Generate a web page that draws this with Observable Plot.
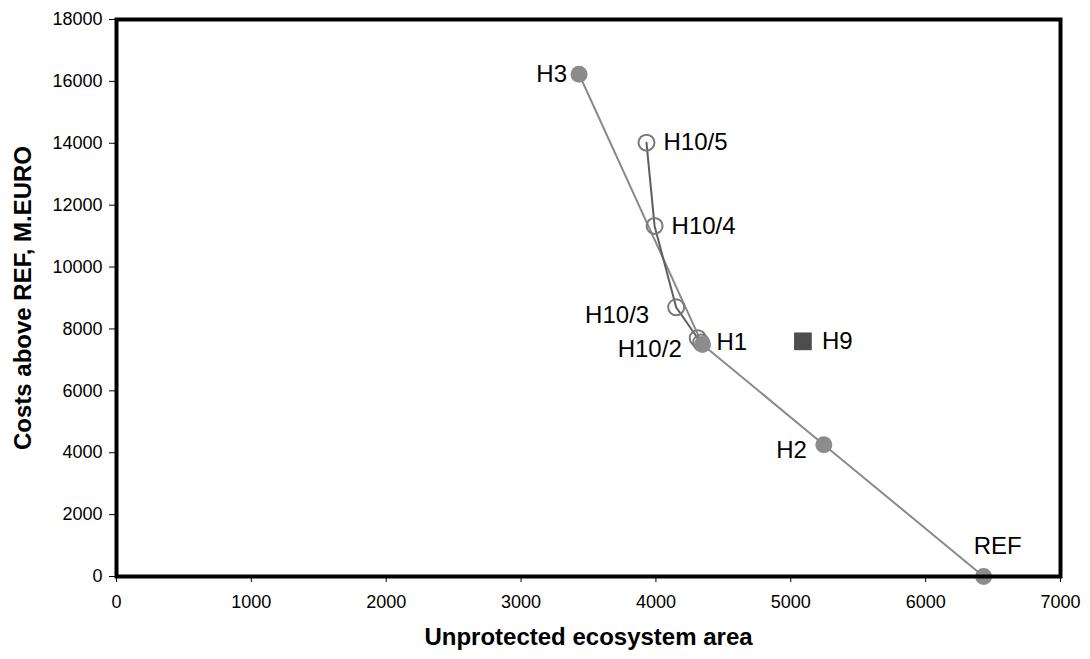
<!DOCTYPE html>
<html>
<head>
<meta charset="utf-8">
<script src="https://cdn.jsdelivr.net/npm/d3@7"></script>
<script src="https://cdn.jsdelivr.net/npm/@observablehq/plot@0.6"></script>
<style>
  html, body { margin: 0; padding: 0; background: #fff; }
  #chart svg { display: block; }
</style>
</head>
<body>
<div id="chart"></div>
<script>
// Main scenario path (filled circles)
const mainNames = ["H3", "H1", "H2", "REF"];
const mainX = [3430, 4345, 5245, 6430];
const mainY = [16230, 7500, 4260, 0];

// H10 scenario path (open circles)
const h10Names = ["H10/5", "H10/4", "H10/3", "H10/2", "H10/1"];
const h10X = [3930, 3990, 4150, 4310, 4335];
const h10Y = [14020, 11330, 8700, 7700, 7560];

// H9 (square)
const h9Names = ["H9"];
const h9X = [5090];
const h9Y = [7600];

const xTicks = [0, 1000, 2000, 3000, 4000, 5000, 6000, 7000];
const yTicks = [0, 2000, 4000, 6000, 8000, 10000, 12000, 14000, 16000, 18000];

const mainData = mainNames.map((n, i) => ({name: n, x: mainX[i], y: mainY[i]}));
const h10Data = h10Names.map((n, i) => ({name: n, x: h10X[i], y: h10Y[i]}));
const h9Data = h9Names.map((n, i) => ({name: n, x: h9X[i], y: h9Y[i]}));
const allData = [...mainData, ...h10Data, ...h9Data];

const font = "Liberation Sans, Arial, sans-serif";
const lbl = (name, opts) => Plot.text(allData.filter(d => d.name === name), {
  x: "x", y: "y", text: "name", fontSize: 24, fill: "black", ...opts
});

const chart = Plot.plot({
  width: 1090,
  height: 659,
  marginLeft: 116,
  marginRight: 30,
  marginTop: 19,
  marginBottom: 83,
  style: {fontFamily: font, background: "white"},
  x: {domain: [0, 7000]},
  y: {domain: [0, 18000]},
  marks: [
    Plot.axisX({ticks: xTicks, tickSize: 6, tickPadding: 13, fontSize: 18, label: null, tickFormat: d => String(d), stroke: "black"}),
    Plot.axisY({ticks: yTicks, tickSize: 7, tickPadding: 7, fontSize: 18, label: null, tickFormat: d => String(d), stroke: "black"}),
    Plot.line(mainData, {x: "x", y: "y", stroke: "#8a8a8a", strokeWidth: 2}),
    Plot.line(h10Data, {x: "x", y: "y", stroke: "#5e5e5e", strokeWidth: 2}),
    Plot.dot(h10Data, {x: "x", y: "y", r: 8, stroke: "#7a7a7a", strokeWidth: 2, fill: "none"}),
    Plot.dot(mainData, {x: "x", y: "y", r: 8.5, fill: "#8c8c8c", stroke: "none"}),
    Plot.dot(h9Data, {x: "x", y: "y", r: 10, symbol: "square", fill: "#4d4d4d", stroke: "none"}),
    lbl("H3", {textAnchor: "end", dx: -12}),
    lbl("H10/5", {textAnchor: "start", dx: 17}),
    lbl("H10/4", {textAnchor: "start", dx: 17}),
    lbl("H10/3", {textAnchor: "end", dx: -27, dy: 8}),
    lbl("H10/2", {textAnchor: "end", dx: -16, dy: 11}),
    lbl("H1", {textAnchor: "start", dx: 14, dy: -2}),
    lbl("H9", {textAnchor: "start", dx: 19}),
    lbl("H2", {textAnchor: "end", dx: -17, dy: 6}),
    lbl("REF", {textAnchor: "middle", dx: 14, dy: -30}),
    Plot.frame({stroke: "black", strokeWidth: 4}),
    Plot.text(["Unprotected ecosystem area"], {frameAnchor: "bottom", lineAnchor: "middle", textAnchor: "middle", dy: 61, text: d => d, fontSize: 24, fontWeight: "bold", fill: "black"}),
    Plot.text(["Costs above REF, M.EURO"], {frameAnchor: "left", lineAnchor: "middle", textAnchor: "middle", dx: -93, rotate: -90, text: d => d, fontSize: 24, fontWeight: "bold", fill: "black"})
  ]
});
document.getElementById("chart").appendChild(chart);
</script>
</body>
</html>
